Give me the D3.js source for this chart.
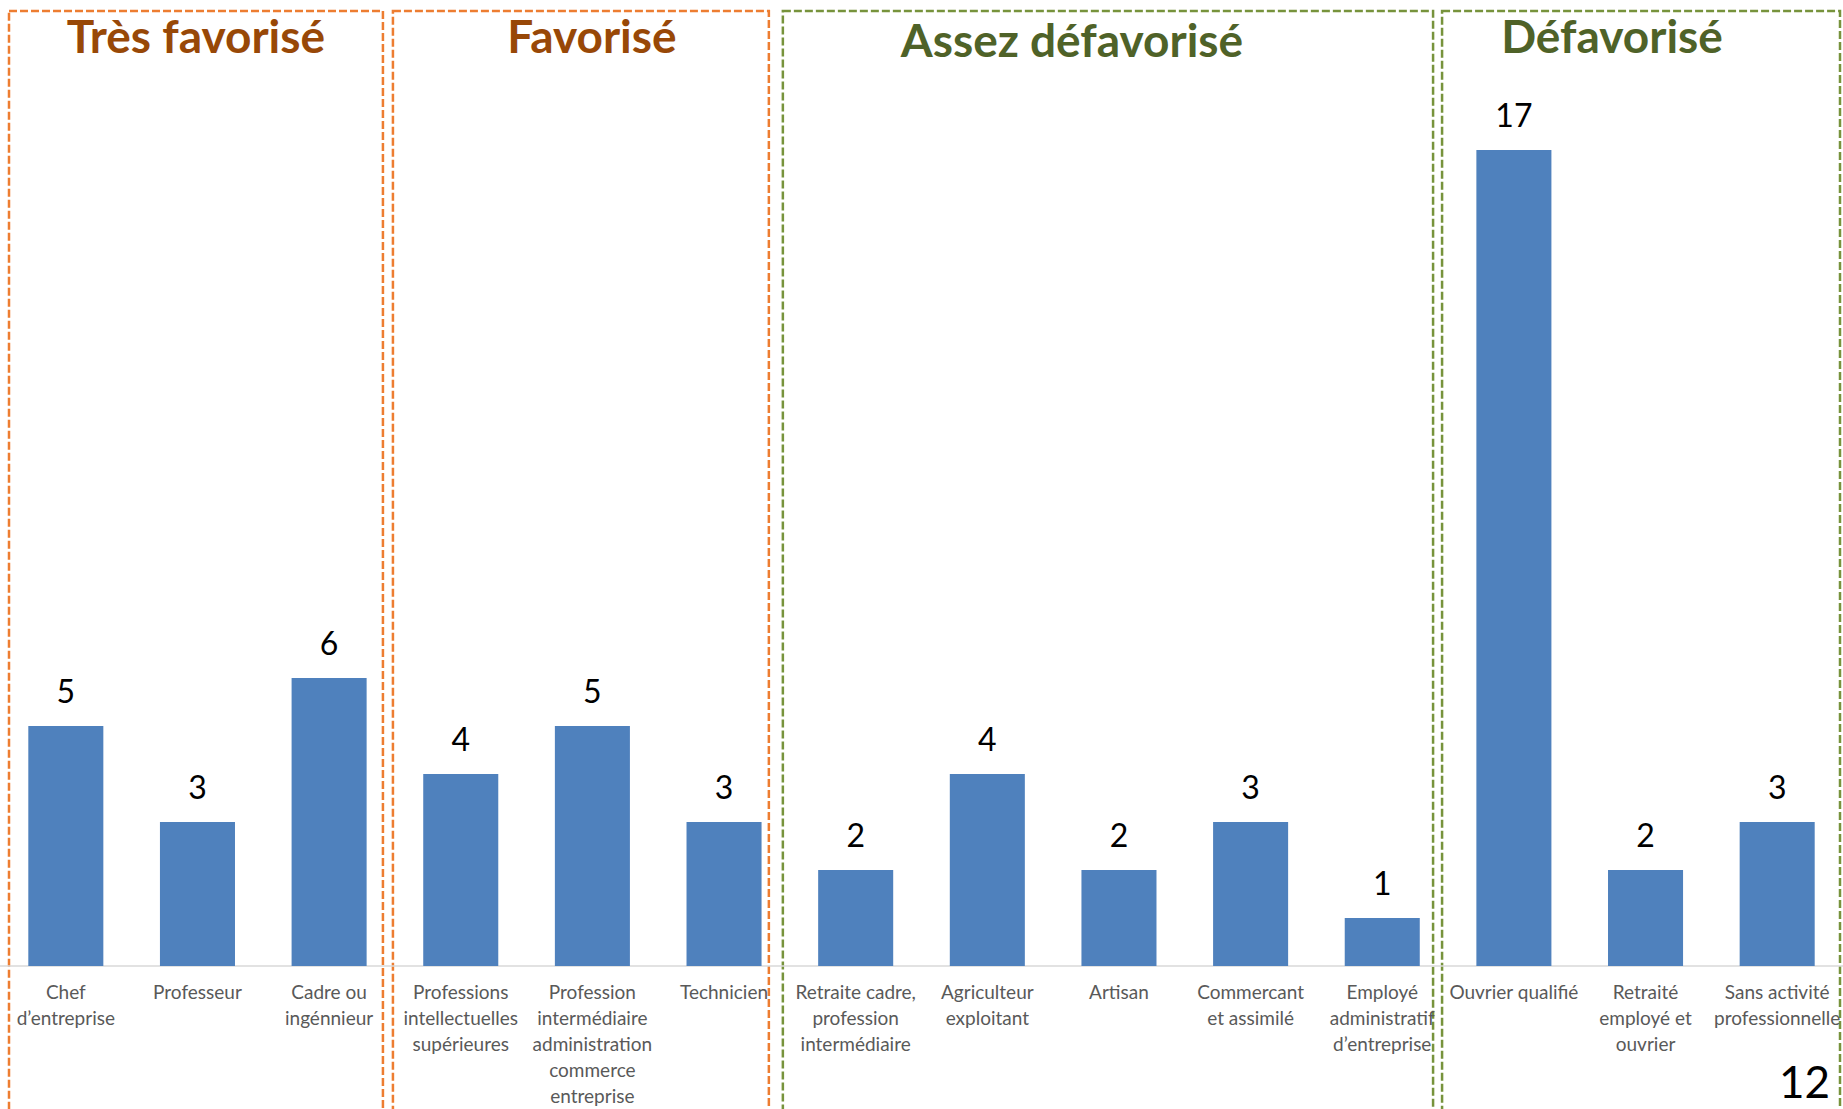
<!DOCTYPE html>
<html>
<head>
<meta charset="utf-8">
<script src="https://cdn.jsdelivr.net/npm/d3@7"></script>
<style>
  body { margin: 0; background: #fff; overflow: hidden; }
  svg { display: block; }
</style>
</head>
<body>
<svg id="chart"></svg>
<script>
// categories (line breaks as in the slide)
const categories = [
  "Chef\nd’entreprise",
  "Professeur",
  "Cadre ou\ningénnieur",
  "Professions\nintellectuelles\nsupérieures",
  "Profession\nintermédiaire\nadministration\ncommerce\nentreprise",
  "Technicien",
  "Retraite cadre,\nprofession\nintermédiaire",
  "Agriculteur\nexploitant",
  "Artisan",
  "Commercant\net assimilé",
  "Employé\nadministratif\nd’entreprise",
  "Ouvrier qualifié",
  "Retraité\nemployé et\nouvrier",
  "Sans activité\nprofessionnelle"
];
const values = [5, 3, 6, 4, 5, 3, 2, 4, 2, 3, 1, 17, 2, 3];

const groups = ["Très favorisé", "Favorisé", "Assez défavorisé", "Défavorisé"];
const groupSizes = [3, 3, 5, 3];
const pageNumber = "12";

const W = 1843, H = 1109;
const svg = d3.select("#chart").attr("width", W).attr("height", H);

const baseY = 966;
const x = d3.scaleBand()
  .domain(categories)
  .range([0, W])
  .paddingInner(0.43)
  .paddingOuter(0.215);

const y = d3.scaleLinear()
  .domain([0, 17])
  .range([baseY, baseY - 17 * 48]);

// group boxes (dashed), drawn behind
const boxStyle = [
  { stroke: "#ED7D31", title: "#984807", l: 9, r: -12, dx: 0, dy: 0 },
  { stroke: "#ED7D31", title: "#984807", l: -2, r: -21, dx: 11, dy: 0 },
  { stroke: "#77933C", title: "#4F6228", l: -7, r: -15, dx: -36, dy: 4 },
  { stroke: "#77933C", title: "#4F6228", l: -6, r: -3, dx: -29, dy: 0 }
];
let start = 0;
const boxes = groups.map((g, i) => {
  const x0 = x.step() * start + boxStyle[i].l;
  const x1 = x.step() * (start + groupSizes[i]) + boxStyle[i].r;
  start += groupSizes[i];
  return { name: g, x0, x1, s: boxStyle[i] };
});

const gBox = svg.append("g");
gBox.selectAll("rect")
  .data(boxes)
  .join("rect")
  .attr("x", d => d.x0)
  .attr("y", 11)
  .attr("width", d => d.x1 - d.x0)
  .attr("height", H + 40)
  .attr("fill", "none")
  .attr("stroke", d => d.s.stroke)
  .attr("stroke-width", 2.5)
  .attr("stroke-dasharray", "8,3");

gBox.selectAll("text")
  .data(boxes)
  .join("text")
  .attr("x", d => (d.x0 + d.x1) / 2 + d.s.dx)
  .attr("y", d => 53 + d.s.dy)
  .attr("text-anchor", "middle")
  .attr("fill", d => d.s.title)
  .style("font-family", "Lato, 'Open Sans', sans-serif")
  .style("font-weight", "bold")
  .style("font-size", "46px")
  .text(d => d.name);

// axis line
svg.append("line")
  .attr("x1", 0).attr("x2", W)
  .attr("y1", baseY).attr("y2", baseY)
  .attr("stroke", "#D9D9D9")
  .attr("stroke-width", 1.5);

// bars
const data = categories.map((c, i) => ({ c, v: values[i] }));
svg.append("g").selectAll("rect")
  .data(data)
  .join("rect")
  .attr("x", d => x(d.c))
  .attr("y", d => y(d.v))
  .attr("width", x.bandwidth())
  .attr("height", d => y(0) - y(d.v))
  .attr("fill", "#4F81BD");

// value labels
svg.append("g").selectAll("text")
  .data(data)
  .join("text")
  .attr("x", d => x(d.c) + x.bandwidth() / 2)
  .attr("y", d => y(d.v) - 23)
  .attr("text-anchor", "middle")
  .attr("fill", "#000")
  .style("font-family", "Lato, 'Open Sans', sans-serif")
  .style("font-size", "32px")
  .text(d => d.v);

// category labels
const cat = svg.append("g").selectAll("text")
  .data(categories)
  .join("text")
  .attr("text-anchor", "middle")
  .attr("fill", "#595959")
  .style("font-family", "Lato, 'Open Sans', sans-serif")
  .style("font-size", "19px");
cat.selectAll("tspan")
  .data(d => d.split("\n").map(t => ({ t, c: d })))
  .join("tspan")
  .attr("x", d => x(d.c) + x.bandwidth() / 2)
  .attr("y", (d, i) => 999 + i * 26)
  .text(d => d.t);

// slide number
svg.append("text")
  .attr("x", 1830)
  .attr("y", 1098)
  .attr("text-anchor", "end")
  .attr("fill", "#000")
  .style("font-family", "Lato, 'Open Sans', sans-serif")
  .style("font-size", "44px")
  .text(pageNumber);
</script>
</body>
</html>
